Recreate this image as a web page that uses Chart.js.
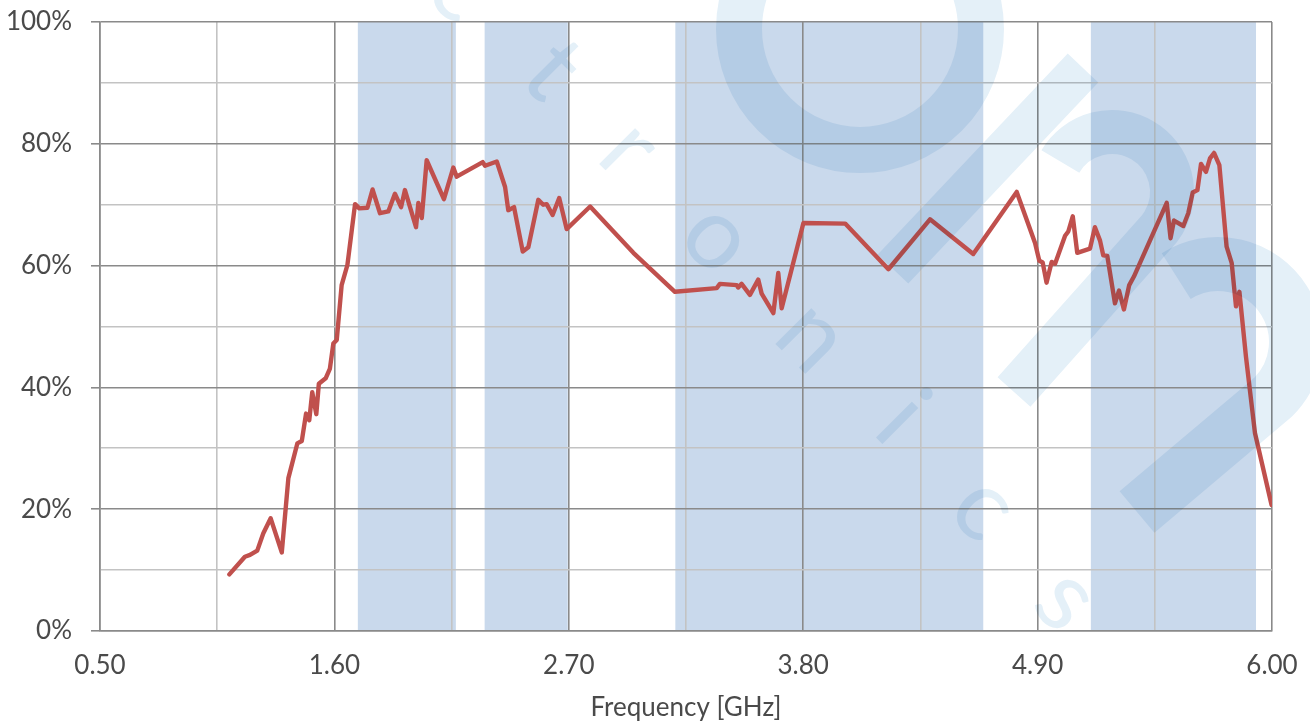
<!DOCTYPE html>
<html>
<head>
<meta charset="utf-8">
<script src="https://cdn.jsdelivr.net/npm/chart.js@4.4.1/dist/chart.umd.min.js"></script>
<style>
  html, body { margin: 0; padding: 0; background: #fff; }
  #wrap { width: 1310px; height: 724px; }
</style>
</head>
<body>
<div id="wrap"><canvas id="effChart" width="1310" height="724"></canvas></div>
<script>
// ── data ──
const FREQ = [
  1.107, 1.180, 1.204, 1.238, 1.266, 1.301, 1.353, 1.384, 1.426, 1.447,
  1.467, 1.482, 1.496, 1.515, 1.527, 1.559, 1.579, 1.595, 1.611, 1.634,
  1.661, 1.697, 1.717, 1.755, 1.779, 1.814, 1.853, 1.884, 1.913, 1.931,
  1.983, 1.994, 2.010, 2.033, 2.114, 2.158, 2.174, 2.296, 2.307, 2.362,
  2.401, 2.416, 2.443, 2.484, 2.510, 2.557, 2.580, 2.596, 2.624, 2.655,
  2.690, 2.800, 3.003, 3.198, 3.394, 3.409, 3.488, 3.495, 3.511, 3.550,
  3.589, 3.605, 3.660, 3.683, 3.699, 3.801, 3.997, 4.200, 4.395, 4.598,
  4.802, 4.888, 4.908, 4.924, 4.942, 4.966, 4.982, 5.029, 5.044, 5.065,
  5.086, 5.146, 5.169, 5.193, 5.208, 5.227, 5.263, 5.282, 5.305, 5.330,
  5.352, 5.506, 5.524, 5.540, 5.584, 5.607, 5.628, 5.650, 5.667, 5.690,
  5.709, 5.728, 5.753, 5.787, 5.811, 5.831, 5.847, 5.878, 5.920, 5.998
];
const EFFICIENCY = [
  9.3, 12.2, 12.5, 13.2, 16.0, 18.5, 12.9, 25.1, 30.8, 31.2,
  35.7, 34.6, 39.2, 35.6, 40.6, 41.5, 43.1, 47.2, 47.8, 56.8,
  60.1, 70.1, 69.4, 69.5, 72.5, 68.6, 68.9, 71.8, 69.6, 72.4,
  66.3, 70.3, 67.8, 77.3, 70.9, 76.1, 74.6, 77.0, 76.4, 77.1,
  72.9, 69.1, 69.6, 62.3, 63.0, 70.8, 70.0, 70.1, 68.3, 71.1,
  66.0, 69.7, 62.1, 55.7, 56.3, 57.0, 56.8, 56.4, 57.0, 55.2,
  57.7, 55.4, 52.2, 58.8, 53.0, 67.0, 66.9, 59.4, 67.6, 61.9,
  72.1, 63.7, 60.8, 60.5, 57.2, 60.6, 60.3, 64.9, 65.6, 68.1,
  62.1, 62.8, 66.3, 64.1, 61.7, 61.6, 53.8, 55.9, 52.8, 56.8,
  58.2, 70.3, 64.5, 67.4, 66.5, 68.6, 72.0, 72.4, 76.7, 75.4,
  77.6, 78.5, 76.5, 63.1, 60.4, 53.3, 55.7, 45.0, 32.5, 20.7
];
// shaded frequency bands [GHz]
const BAND_START = [1.71, 2.305, 3.20, 5.15];
const BAND_END   = [2.17, 2.695, 4.645, 5.925];
// axis ticks
const X_TICKS = [0.50, 1.05, 1.60, 2.15, 2.70, 3.25, 3.80, 4.35, 4.90, 5.45, 6.00];
const Y_MIN = 0, Y_MAX = 100, Y_STEP = 10;

const MAJOR = '#8a8a8a';
const MINOR = '#c3c3c3';
const TEXT = '#4a4a4a';
const FONT = "Lato, 'Open Sans', sans-serif";

// ── band shading behind the grid ──
const bandPlugin = {
  id: 'bands',
  beforeDraw(chart) {
    const { ctx, chartArea: a, scales: { x } } = chart;
    ctx.save();
    ctx.fillStyle = '#c9d9ec';
    BAND_START.forEach((s, i) => {
      const x0 = x.getPixelForValue(s);
      const x1 = x.getPixelForValue(BAND_END[i]);
      ctx.fillRect(x0, a.top, x1 - x0, a.bottom - a.top);
    });
    ctx.restore();
  }
};

// ── faint logo watermark (multiplied over everything) ──
const WM_LETTERS = [
  ['c', 462, -12], ['t', 553, 70], ['r', 630, 149], ['o', 718, 237],
  ['n', 813, 336], ['i', 902, 418], ['c', 985, 507], ['s', 1067, 599]
];
const watermarkPlugin = {
  id: 'watermark',
  afterDatasetsDraw(chart) {
    const ctx = chart.ctx;
    ctx.save();
    ctx.globalCompositeOperation = 'multiply';
    ctx.strokeStyle = ctx.fillStyle = 'rgb(228,240,248)';
    ctx.lineCap = 'butt';

    // ring at the top
    ctx.lineWidth = 46;
    ctx.beginPath();
    ctx.arc(860, 29, 121, 0, Math.PI * 2);
    ctx.stroke();

    // straight stripe
    ctx.lineWidth = 42;
    ctx.beginPath();
    ctx.moveTo(1083, 68);
    ctx.lineTo(893, 269);
    ctx.stroke();

    // first hook
    ctx.lineWidth = 44;
    ctx.beginPath();
    ctx.arc(1112, 192, 60, -Math.PI * 0.83, Math.PI * 0.25);
    ctx.lineTo(1014, 392);
    ctx.stroke();

    // second hook
    ctx.lineWidth = 54;
    ctx.beginPath();
    ctx.arc(1218, 342, 78, -Math.PI * 0.68, Math.PI * 0.25);
    ctx.lineTo(1137, 512);
    ctx.stroke();

    // letters
    ctx.font = "100px " + FONT;
    ctx.textAlign = 'center';
    ctx.textBaseline = 'middle';
    WM_LETTERS.forEach(([ch, px, py]) => {
      ctx.save();
      ctx.translate(px, py);
      ctx.rotate(Math.PI / 4);
      ctx.fillText(ch, 0, 0);
      ctx.restore();
    });
    ctx.restore();
  }
};

// keep the plot area fixed: drop the label overflow padding
const noOverflow = s => {
  s.paddingTop = 0; s.paddingBottom = 0; s.paddingLeft = 0; s.paddingRight = 0;
};

const points = FREQ.map((f, i) => ({ x: f, y: EFFICIENCY[i] }));

new Chart(document.getElementById('effChart'), {
  type: 'line',
  data: {
    datasets: [{
      label: 'Efficiency',
      data: points,
      borderColor: '#c0504d',
      borderWidth: 4.4,
      pointRadius: 0,
      tension: 0,
      fill: false,
      borderJoinStyle: 'round',
      borderCapStyle: 'round'
    }]
  },
  options: {
    responsive: false,
    animation: false,
    events: [],
    layout: { padding: { left: 0, right: 38, top: 22, bottom: 0 } },
    plugins: {
      legend: { display: false },
      tooltip: { enabled: false }
    },
    scales: {
      x: {
        type: 'linear',
        min: X_TICKS[0],
        max: X_TICKS[X_TICKS.length - 1],
        afterBuildTicks: s => { s.ticks = X_TICKS.map(v => ({ value: v })); },
        afterFit: s => { s.height = 93; noOverflow(s); },
        grid: {
          color: c => (c.index % 2 === 0 ? MAJOR : MINOR),
          lineWidth: 1.6,
          drawTicks: false
        },
        border: { display: true, color: MAJOR, width: 1.6 },
        ticks: {
          padding: 19,
          color: TEXT,
          font: { family: FONT, size: 26 },
          maxRotation: 0,
          autoSkip: false,
          callback: (v, i) => (i % 2 === 0 ? Number(v).toFixed(2) : '')
        },
        title: {
          display: true,
          text: 'Frequency [GHz]',
          color: TEXT,
          font: { family: FONT, size: 26 },
          padding: { top: 0, bottom: 1 }
        }
      },
      y: {
        min: Y_MIN,
        max: Y_MAX,
        afterFit: s => { s.width = 100; noOverflow(s); },
        grid: {
          color: c => (c.index % 2 === 0 ? MAJOR : MINOR),
          lineWidth: 1.6,
          tickColor: c => (c.index % 2 === 0 ? MAJOR : 'rgba(0,0,0,0)'),
          tickLength: 9
        },
        border: { display: true, color: MAJOR, width: 1.6 },
        ticks: {
          stepSize: Y_STEP,
          padding: 19,
          color: TEXT,
          font: { family: FONT, size: 26 },
          callback: v => (v % 20 === 0 ? v + '%' : '')
        }
      }
    }
  },
  plugins: [bandPlugin, watermarkPlugin]
});
</script>
</body>
</html>
